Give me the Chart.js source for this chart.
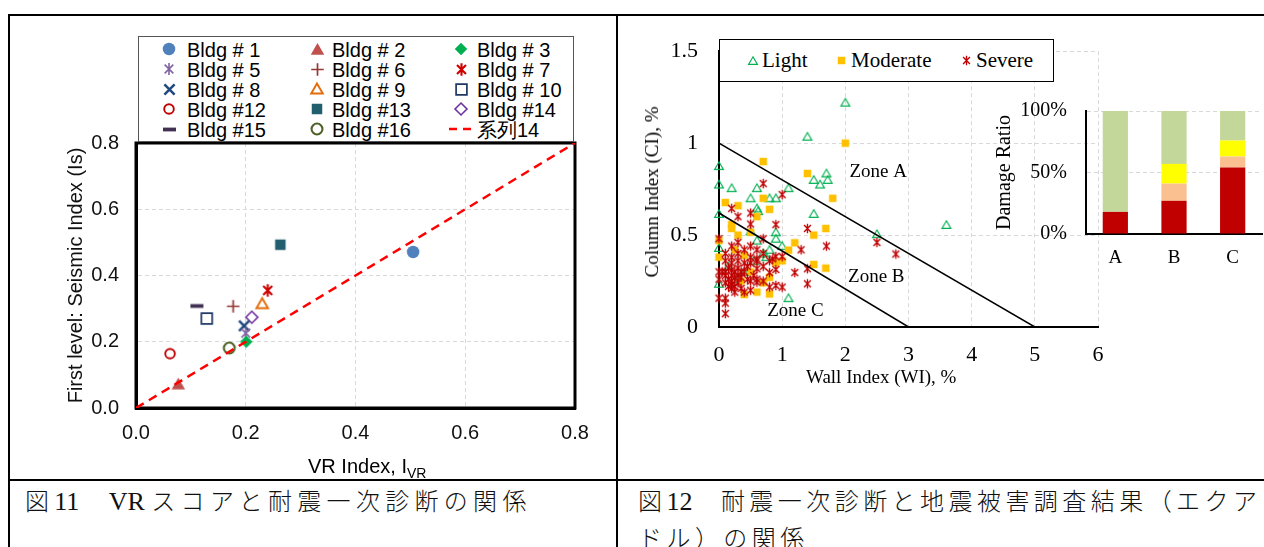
<!DOCTYPE html>
<html><head><meta charset="utf-8">
<script src="https://cdn.jsdelivr.net/npm/chart.js@4.4.1/dist/chart.umd.min.js"></script>
<style>
html,body{margin:0;padding:0;background:#fff;}
#page{position:relative;width:1264px;height:547px;overflow:hidden;background:#fff;}
.ln{position:absolute;background:#000;}
canvas{position:absolute;}
.lg{position:absolute;background:#fff;box-sizing:border-box;}
.item{position:absolute;white-space:nowrap;color:#000;}
.ttl{position:absolute;white-space:nowrap;color:#000;}
.cap{position:absolute;font-family:"Noto Sans CJK JP",sans-serif;font-size:24px;font-weight:300;line-height:35px;white-space:nowrap;color:#111;}
.cap .la{font-family:"Liberation Serif",serif;font-size:26px;font-weight:400;letter-spacing:0;}
</style></head>
<body><div id="page">
<div class="ln" style="left:8px;top:14px;width:1256px;height:2px"></div>
<div class="ln" style="left:8px;top:14px;width:2px;height:533px"></div>
<div class="ln" style="left:616px;top:14px;width:2px;height:533px"></div>
<div class="ln" style="left:8px;top:479px;width:1256px;height:2px"></div>
<canvas id="c1" width="606" height="462" style="left:10px;top:17px"></canvas>
<div id="lg1" class="lg" style="left:138px;top:36px;width:436px;height:106px;border:1.5px solid #555"></div>
<div class="ttl" style="left:308px;top:454px;font:20px 'Liberation Sans',Arial,sans-serif;line-height:24px">VR Index, I<span style="font-size:14px;position:relative;top:5px">VR</span></div>
<canvas id="c2" width="645" height="383" style="left:619px;top:17px"></canvas>
<canvas id="c3" width="274" height="195" style="left:990px;top:80px"></canvas>
<div id="lg2" class="lg" style="left:719px;top:39px;width:335px;height:43px;border:1.5px solid #000"></div>
<div class="ttl" style="left:806px;top:366px;font:19px 'Liberation Serif',serif;line-height:22px">Wall Index (WI), %</div>
<div class="ttl" style="left:652px;top:192px;font:19px 'Liberation Serif',serif;line-height:22px;transform:translate(-50%,-50%) rotate(-90deg)">Column Index (CI), %</div>
<div class="cap" style="left:25px;top:482px;letter-spacing:5.3px">図<span class="la">11</span>　<span class="la">VR </span>スコアと耐震一次診断の関係</div>
<div class="cap" style="left:638px;top:482px;letter-spacing:4.45px">図<span class="la">12</span>　耐震一次診断と地震被害調査結果（エクア<br>ドル）の関係</div>
</div>
<script>
// ---------- Left chart data (Fig. 11) ----------
const bldgLabels = ['Bldg # 1','Bldg # 2','Bldg # 3','Bldg # 5','Bldg # 6','Bldg # 7','Bldg # 8','Bldg # 9','Bldg # 10','Bldg #12','Bldg #13','Bldg #14','Bldg #15','Bldg #16'];
const vrIndex      = [0.505,0.077,0.201,0.200,0.177,0.240,0.197,0.230,0.129,0.062,0.263,0.211,0.111,0.170];
const seismicIndex = [0.471,0.072,0.200,0.226,0.307,0.355,0.248,0.315,0.270,0.164,0.493,0.274,0.308,0.181];
const refLineLabel = '系列14';
const refLineX = [0, 0.8];
const refLineY = [0, 0.8];
const leftTicks = [0, 0.2, 0.4, 0.6, 0.8];

// ---------- Right chart data (Fig. 12) ----------
const damageLabels = ['Light','Moderate','Severe'];
const lightWI = [2.0,1.4,0,0,0.2,0.6,1.1,0.5,0.8,0.9,0.6,1.5,1.6,1.7,1.72,1.5,0,3.6,2.5,0.9,0.9,1.0,0.8,0.6,0.5,1.1,0,0,0.7,0.75,0.4,0.55,0.3,0.15,0.62];
const lightCI = [1.22,1.035,0.875,0.775,0.755,0.755,0.755,0.70,0.70,0.70,0.645,0.80,0.775,0.835,0.80,0.615,0.615,0.555,0.505,0.515,0.48,0.44,0.42,0.47,0.52,0.157,0.43,0.235,0.40,0.38,0.30,0.36,0.26,0.33,0.63];
const moderateWI = [2.0,0.7,1.4,1.8,0.7,0.1,0.3,0.8,0.6,0.2,0.2,0.3,0.5,1.69,1.5,1.2,1.1,0,0,0.4,1.5,1.69,0.6,0.8,0.4,0.7,0.8,0.9,1.0,0.35,0.5,0.25];
const moderateCI = [1.0,0.9,0.835,0.70,0.70,0.677,0.66,0.64,0.60,0.557,0.536,0.50,0.515,0.536,0.50,0.458,0.418,0.47,0.38,0.39,0.34,0.32,0.19,0.18,0.177,0.24,0.27,0.35,0.36,0.25,0.30,0.42];
const severeWI = [0.7,1.0,0.2,0.3,0.5,0.5,0.9,1.4,0,0.7,0.3,0.5,1.7,1.3,0.1,0.3,0.7,0.6,0.9,1.0,2.5,2.8,1.4,1.2,1.4,0.9,0.8,0.6,0.5,0.4,0.2,0,0.1,0.2,0.3,0.4,0.6,0.8,0.9,1.0,0,0.1,0.1,0.1,0.2,0.1,0.15,0.2,0.25,0.3,0.15,0.2,0.25,0.3,0.1,0.15,0.2,0.25,0.35,0.35,0.4,0.45,0.5,0.55,0.6,0.5,0.4,0.6,0.7,0.8,0.85,0.2,0.1,0.05,0,0.3,0.5,0.35,0.25,0.45,0.2,0.7,0.6];
const severeCI = [0.78,0.72,0.645,0.60,0.62,0.56,0.557,0.536,0.48,0.48,0.46,0.44,0.44,0.42,0.40,0.40,0.40,0.42,0.383,0.383,0.46,0.397,0.317,0.296,0.235,0.313,0.296,0.317,0.348,0.348,0.348,0.26,0.28,0.28,0.28,0.19,0.244,0.217,0.226,0.217,0.157,0.157,0.13,0.073,0.21,0.30,0.32,0.31,0.30,0.32,0.26,0.25,0.27,0.24,0.24,0.22,0.23,0.22,0.27,0.30,0.30,0.26,0.25,0.28,0.26,0.38,0.42,0.36,0.33,0.36,0.37,0.44,0.36,0.30,0.30,0.36,0.20,0.21,0.19,0.33,0.38,0.25,0.37];
const zoneABx = [0, 5], zoneABy = [1, 0];
const zoneBCx = [0, 3], zoneBCy = [0.62, 0];
const zoneText = ['Zone A','Zone B','Zone C'];
const zoneTextWI = [2.52, 2.49, 1.21];
const zoneTextCI = [0.845, 0.27, 0.088];

// ---------- Inset (damage ratio) ----------
const zoneCats = ['A','B','C'];
const ratioSevere   = [18, 27, 54];
const ratioHeavy    = [0, 14, 9];
const ratioModerate = [0, 16, 13];
const ratioLight    = [82, 43, 24];
const ratioTicks = [0, 50, 100];

// ---------- styles ----------
const SANS = '"Liberation Sans", Arial, sans-serif';
const SERIF = '"Liberation Serif", "Times New Roman", serif';
function mk(type, size, color, lw) {
  lw = lw || 1;
  const S = Math.ceil(size + lw + 4);
  const c = document.createElement('canvas'); c.width = S; c.height = S;
  const g = c.getContext('2d'); const m = S / 2, r = size / 2;
  g.strokeStyle = color; g.fillStyle = color; g.lineWidth = lw; g.lineCap = 'butt';
  g.beginPath();
  if (type === 'circle') { g.arc(m, m, r, 0, Math.PI * 2); g.fill(); }
  else if (type === 'circleO') { g.arc(m, m, r - lw / 2, 0, Math.PI * 2); g.stroke(); }
  else if (type === 'tri' || type === 'triO') {
    const rr = type === 'triO' ? r - lw / 2 : r; const h = rr * 2 * 0.866;
    g.moveTo(m, m - h * 0.55); g.lineTo(m + rr, m + h * 0.45); g.lineTo(m - rr, m + h * 0.45); g.closePath();
    type === 'tri' ? g.fill() : g.stroke();
  }
  else if (type === 'diamond' || type === 'diamondO') {
    const rr = type === 'diamondO' ? r - lw / 2 : r;
    g.moveTo(m, m - rr); g.lineTo(m + rr, m); g.lineTo(m, m + rr); g.lineTo(m - rr, m); g.closePath();
    type === 'diamond' ? g.fill() : g.stroke();
  }
  else if (type === 'square') { g.rect(m - r, m - r, size, size); g.fill(); }
  else if (type === 'squareO') { const rr = r - lw / 2; g.rect(m - rr, m - rr, rr * 2, rr * 2); g.stroke(); }
  else if (type === 'plus') { g.moveTo(m - r, m); g.lineTo(m + r, m); g.moveTo(m, m - r); g.lineTo(m, m + r); g.stroke(); }
  else if (type === 'x') { const d = r * 0.85; g.moveTo(m - d, m - d); g.lineTo(m + d, m + d); g.moveTo(m + d, m - d); g.lineTo(m - d, m + d); g.stroke(); }
  else if (type === 'star') { const d = r * 0.72; g.moveTo(m, m - r); g.lineTo(m, m + r); g.moveTo(m - d, m - d); g.lineTo(m + d, m + d); g.moveTo(m + d, m - d); g.lineTo(m - d, m + d); g.stroke(); }
  else if (type === 'dash') { g.moveTo(m - r, m); g.lineTo(m + r, m); g.stroke(); }
  return c;
}
function dashMarker(color) {
  const c = document.createElement('canvas'); c.width = 26; c.height = 6;
  const g = c.getContext('2d'); g.strokeStyle = color; g.lineWidth = 2.5;
  g.beginPath(); g.moveTo(1, 3); g.lineTo(9, 3); g.moveTo(15, 3); g.lineTo(23, 3); g.stroke();
  return c;
}
const bldgStyles = [
  ['circle', '#4f81bd', 12.5, 0], ['tri', '#c0504d', 13.5, 0], ['diamond', '#00b050', 12.5, 0],
  ['star', '#8064a2', 12, 1.6], ['plus', '#953735', 12.5, 1.7], ['star', '#d00000', 12.5, 2.1],
  ['x', '#1f497d', 12, 2.5], ['triO', '#e46c0a', 13.5, 1.9], ['squareO', '#1f3864', 12.5, 1.7],
  ['circleO', '#c00000', 11.5, 1.9], ['square', '#215e6e', 10.5, 0], ['diamondO', '#7030a0', 13.5, 1.6],
  ['dash', '#403152', 13, 3.8], ['circleO', '#4f6228', 13, 2.1]
];
const bldgMarkers = bldgStyles.map(s => mk(s[0], s[2], s[1], s[3]));
const refLineColor = '#ff0000';

// ---------- Left chart ----------
const frame = { id: 'frame', beforeDatasetsDraw(chart) {
  const { ctx, chartArea: a } = chart; ctx.save(); ctx.strokeStyle = '#000'; ctx.lineWidth = 3;
  ctx.strokeRect(a.left, a.top, a.right - a.left, a.bottom - a.top); ctx.restore(); } };
const leftDatasets = bldgLabels.map((lab, i) => ({
  label: lab, data: [{ x: vrIndex[i], y: seismicIndex[i] }],
  pointStyle: bldgMarkers[i], pointRadius: 6, clip: false, order: 2
}));
leftDatasets.push({
  type: 'line', label: refLineLabel, data: refLineX.map((x, i) => ({ x, y: refLineY[i] })),
  borderColor: refLineColor, borderWidth: 2.5, borderDash: [9, 6], pointRadius: 0, fill: false, order: 1
});
new Chart(document.getElementById('c1'), {
  type: 'scatter',
  data: { datasets: leftDatasets },
  options: {
    responsive: false, animation: false, events: [],
    layout: { padding: { top: 126, right: 41, left: 0, bottom: 0 } },
    plugins: { legend: { display: false }, tooltip: { enabled: false } },
    scales: {
      x: { type: 'linear', min: 0, max: 0.8,
        afterBuildTicks: s => { s.ticks = leftTicks.map(v => ({ value: v })); },
        ticks: { callback: v => v.toFixed(1), font: { family: SANS, size: 20 }, color: '#111', padding: 13, maxRotation: 0 },
        grid: { color: '#d9d9d9', drawTicks: false, lineWidth: 1 },
        border: { display: true, color: '#000', width: 3, dash: [4, 3] },
        afterFit: s => { s.height = 71; } },
      y: { type: 'linear', min: 0, max: 0.8,
        afterBuildTicks: s => { s.ticks = leftTicks.map(v => ({ value: v })); },
        ticks: { callback: v => v.toFixed(1), font: { family: SANS, size: 20 }, color: '#111', padding: 17 },
        grid: { color: '#d9d9d9', drawTicks: false, lineWidth: 1 },
        border: { display: true, color: '#000', width: 3, dash: [4, 3] },
        title: { display: true, text: 'First level: Seismic Index (Is)', font: { family: SANS, size: 20 }, color: '#111', padding: { top: 54, bottom: 0 } },
        afterFit: s => { s.width = 126; } }
    }
  },
  plugins: [frame]
});
// left legend (HTML)
(function () {
  const lg = document.getElementById('lg1');
  const colX = [30, 178, 322], textX = [48, 193, 338];
  const rowY0 = 12, rowDY = 20.1;
  const labels = bldgLabels.concat([refLineLabel]);
  labels.forEach((lab, i) => {
    const r = Math.floor(i / 3), c = i % 3, cy = rowY0 + r * rowDY;
    const cv = i < bldgLabels.length ? mk(bldgStyles[i][0], bldgStyles[i][2], bldgStyles[i][1], bldgStyles[i][3]) : dashMarker(refLineColor);
    cv.style.left = (colX[c] - cv.width / 2) + 'px'; cv.style.top = (cy - cv.height / 2) + 'px';
    lg.appendChild(cv);
    const t = document.createElement('div'); t.className = 'item'; t.textContent = lab;
    t.style.left = textX[c] + 'px'; t.style.top = (cy - 11.5) + 'px';
    t.style.font = '20px ' + SANS; t.style.lineHeight = '24px';
    lg.appendChild(t);
  });
})();

// ---------- Right chart ----------
const damageColors = ['#00b050', '#ffc000', '#c00000'];
const damageMarkers = [mk('triO', 10, damageColors[0], 1.15), mk('square', 7.5, damageColors[1], 0), mk('star', 9.5, damageColors[2], 1.35)];
const zoneTextPlugin = { id: 'zoneText', afterDatasetsDraw(chart) {
  const { ctx, scales: { x, y } } = chart; ctx.save();
  ctx.font = '19px ' + SERIF; ctx.fillStyle = '#000'; ctx.textAlign = 'center'; ctx.textBaseline = 'middle';
  zoneText.forEach((t, i) => ctx.fillText(t, x.getPixelForValue(zoneTextWI[i]), y.getPixelForValue(zoneTextCI[i])));
  ctx.restore(); } };
const zip = (a, b) => a.map((v, i) => ({ x: v, y: b[i] }));
new Chart(document.getElementById('c2'), {
  type: 'scatter',
  data: { datasets: [
    { label: damageLabels[0], data: zip(lightWI, lightCI), pointStyle: damageMarkers[0], pointRadius: 5, clip: false, order: 4 },
    { label: damageLabels[1], data: zip(moderateWI, moderateCI), pointStyle: damageMarkers[1], pointRadius: 4, clip: false, order: 3 },
    { label: damageLabels[2], data: zip(severeWI, severeCI), pointStyle: damageMarkers[2], pointRadius: 5, clip: false, order: 2 },
    { type: 'line', label: 'Zone A/B', data: zip(zoneABx, zoneABy), borderColor: '#000', borderWidth: 1.5, pointRadius: 0, fill: false, order: 1 },
    { type: 'line', label: 'Zone B/C', data: zip(zoneBCx, zoneBCy), borderColor: '#000', borderWidth: 1.5, pointRadius: 0, fill: false, order: 1 }
  ] },
  options: {
    responsive: false, animation: false, events: [],
    layout: { padding: { top: 22, right: 166, left: 0, bottom: 0 } },
    plugins: { legend: { display: false }, tooltip: { enabled: false } },
    scales: {
      x: { type: 'linear', min: 0, max: 6,
        ticks: { stepSize: 1, callback: v => String(v), font: { family: SERIF, size: 22 }, color: '#000', padding: 15, maxRotation: 0 },
        grid: { color: '#d9d9d9', drawTicks: false },
        border: { display: true, color: '#000', width: 2, dash: [4, 3] },
        afterFit: s => { s.height = 73; } },
      y: { type: 'linear', min: 0, max: 1.5,
        ticks: { stepSize: 0.5, callback: v => String(v), font: { family: SERIF, size: 22 }, color: '#000', padding: 21 },
        grid: { color: '#d9d9d9', drawTicks: false },
        border: { display: true, color: '#000', width: 2, dash: [4, 3] },
        afterFit: s => { s.width = 100; } }
    }
  },
  plugins: [zoneTextPlugin]
});
// right legend
(function () {
  const lg = document.getElementById('lg2');
  const mx = [33, 121, 246], tx = [42, 131, 256], cy = 20.5;
  damageLabels.forEach((lab, i) => {
    const cv = damageMarkers[i].cloneNode(); cv.getContext('2d').drawImage(damageMarkers[i], 0, 0);
    cv.style.left = (mx[i] - cv.width / 2) + 'px'; cv.style.top = (cy - cv.height / 2) + 'px';
    lg.appendChild(cv);
    const t = document.createElement('div'); t.className = 'item'; t.textContent = lab;
    t.style.left = tx[i] + 'px'; t.style.top = (cy - 12.6) + 'px';
    t.style.font = '21px ' + SERIF; t.style.lineHeight = '25px';
    lg.appendChild(t);
  });
})();

// ---------- Inset bar chart ----------
new Chart(document.getElementById('c3'), {
  type: 'bar',
  data: { labels: zoneCats, datasets: [
    { label: 'Severe', data: ratioSevere, backgroundColor: '#c00000' },
    { label: 'Heavy', data: ratioHeavy, backgroundColor: '#fac090' },
    { label: 'Moderate', data: ratioModerate, backgroundColor: '#ffff00' },
    { label: 'Light', data: ratioLight, backgroundColor: '#c4d79b' }
  ] },
  options: {
    responsive: false, animation: false, events: [],
    layout: { padding: { top: 17, right: 2, left: 0, bottom: 0 } },
    datasets: { bar: { barPercentage: 0.43, categoryPercentage: 1.0 } },
    plugins: { legend: { display: false }, tooltip: { enabled: false } },
    scales: {
      x: { stacked: true,
        ticks: { font: { family: SERIF, size: 19 }, color: '#000', padding: 13 },
        grid: { display: false, drawTicks: false },
        border: { display: true, color: '#000', width: 2 },
        afterFit: s => { s.height = 41; } },
      y: { stacked: true, min: 0, max: 100,
        afterBuildTicks: s => { s.ticks = ratioTicks.map(v => ({ value: v })); },
        ticks: { callback: v => v + '%', font: { family: SERIF, size: 20 }, color: '#000', padding: 19 },
        grid: { color: '#d9d9d9', drawTicks: false },
        border: { display: true, color: '#000', width: 2, dash: [4, 3] },
        title: { display: true, text: 'Damage Ratio', font: { family: SERIF, size: 20 }, color: '#000', padding: { top: 3, bottom: 0 } },
        afterFit: s => { s.width = 96; } }
    }
  }
});
</script>
</body></html>
